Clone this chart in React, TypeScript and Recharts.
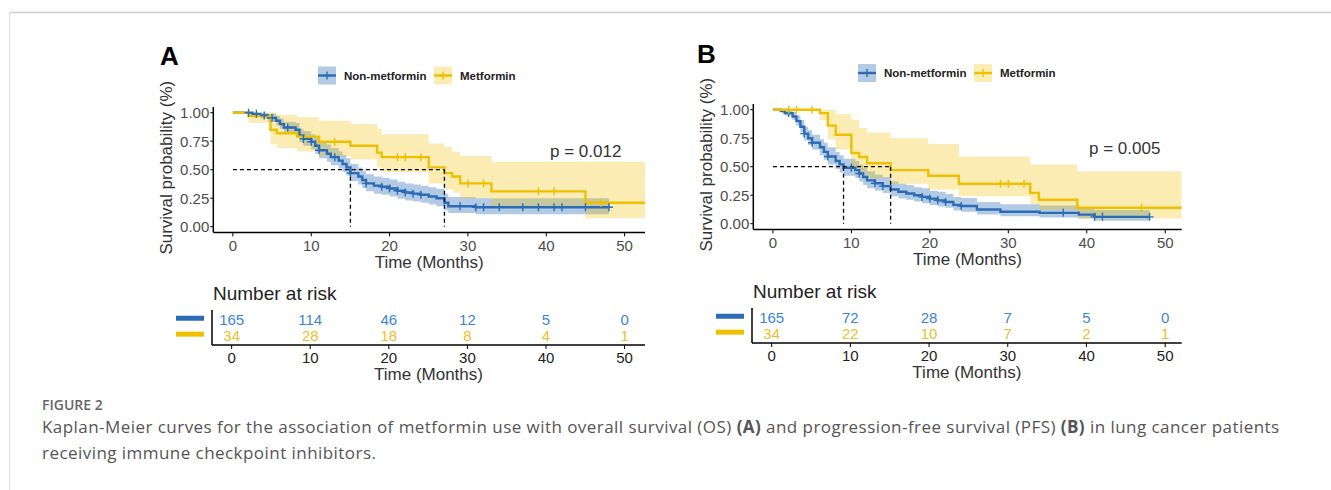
import React from "react";
import {
  ComposedChart,
  Area,
  Line,
  Scatter,
  XAxis,
  YAxis,
  ReferenceLine,
} from "recharts";

const BLUE = "#2B6CB5";
const YELLOW = "#EFC000";
const BLUE_TEXT = "#3A86D6";
const YELLOW_TEXT = "#F0BE2A";

const groups = ["Non-metformin", "Metformin"];
const timeTicks = [0, 10, 20, 30, 40, 50];
const survTicks = [0, 0.25, 0.5, 0.75, 1];

// (A) overall survival, non-metformin
const osNonTime = [0, 2.5, 3.5, 4.5, 5.5, 6, 6.5, 8, 8.5, 9, 10, 10.5, 11, 12, 12.5, 13.5, 14, 14.5, 15, 16, 16.5, 17, 18, 19, 20, 21, 22, 23, 24, 25, 26, 27, 27.5, 31, 48];
const osNonSurv = [1, 0.99, 0.975, 0.955, 0.93, 0.9, 0.87, 0.85, 0.8, 0.77, 0.745, 0.71, 0.67, 0.64, 0.61, 0.58, 0.55, 0.52, 0.47, 0.44, 0.41, 0.38, 0.36, 0.35, 0.335, 0.315, 0.3, 0.29, 0.28, 0.265, 0.25, 0.21, 0.18, 0.17, 0.17];
const osNonLow = [1, 0.97, 0.95, 0.92, 0.89, 0.86, 0.82, 0.8, 0.74, 0.71, 0.68, 0.64, 0.6, 0.57, 0.54, 0.51, 0.48, 0.45, 0.4, 0.37, 0.34, 0.31, 0.29, 0.28, 0.265, 0.245, 0.23, 0.22, 0.21, 0.195, 0.18, 0.145, 0.12, 0.11, 0.11];
const osNonHigh = [1, 1, 1, 0.99, 0.97, 0.95, 0.92, 0.91, 0.86, 0.84, 0.81, 0.78, 0.74, 0.72, 0.69, 0.66, 0.63, 0.6, 0.55, 0.52, 0.49, 0.46, 0.44, 0.43, 0.415, 0.395, 0.38, 0.37, 0.36, 0.345, 0.33, 0.29, 0.26, 0.25, 0.25];
const osNonCensor = [2, 3, 4, 5, 7, 9, 10, 11, 13, 15, 17, 19, 20, 21, 22, 23, 24, 29, 31, 32, 34, 37, 39, 41, 42, 45, 48];

// (A) overall survival, metformin
const osMetTime = [0, 2, 4.8, 5.6, 8.2, 11, 15, 18.4, 19, 25, 27, 28, 29, 33, 45, 52.6];
const osMetSurv = [1, 0.97, 0.85, 0.82, 0.79, 0.745, 0.71, 0.65, 0.61, 0.52, 0.47, 0.44, 0.38, 0.31, 0.21, 0.21];
const osMetLow = [1, 0.91, 0.72, 0.69, 0.66, 0.62, 0.59, 0.52, 0.48, 0.38, 0.33, 0.3, 0.25, 0.18, 0.075, 0.075];
const osMetHigh = [1, 1, 1, 0.98, 0.96, 0.93, 0.9, 0.86, 0.81, 0.73, 0.7, 0.66, 0.62, 0.57, 0.57, 0.57];
const osMetCensor = [13, 21, 22, 24, 30, 32, 39, 41, 47];

// (B) progression-free survival, non-metformin
const pfsNonTime = [0, 1, 1.5, 2.5, 3, 3.5, 4, 4.5, 5, 6, 6.5, 7, 8, 8.5, 9, 10.5, 11, 11.5, 12, 13, 14, 15, 16, 17, 18, 19, 20, 21, 22, 23, 24, 26, 29, 34, 39, 41, 48];
const pfsNonSurv = [1, 0.99, 0.97, 0.94, 0.9, 0.85, 0.79, 0.75, 0.71, 0.67, 0.63, 0.59, 0.55, 0.52, 0.49, 0.47, 0.44, 0.41, 0.38, 0.355, 0.33, 0.3, 0.28, 0.265, 0.25, 0.235, 0.22, 0.205, 0.19, 0.165, 0.155, 0.125, 0.105, 0.095, 0.08, 0.06, 0.06];
const pfsNonLow = [1, 0.97, 0.95, 0.91, 0.86, 0.8, 0.73, 0.69, 0.65, 0.6, 0.56, 0.52, 0.48, 0.45, 0.42, 0.4, 0.37, 0.34, 0.31, 0.29, 0.27, 0.24, 0.22, 0.21, 0.195, 0.18, 0.165, 0.15, 0.14, 0.115, 0.105, 0.08, 0.065, 0.055, 0.045, 0.025, 0.025];
const pfsNonHigh = [1, 1, 1, 0.98, 0.95, 0.91, 0.85, 0.82, 0.78, 0.74, 0.71, 0.67, 0.63, 0.6, 0.57, 0.55, 0.52, 0.49, 0.46, 0.43, 0.41, 0.37, 0.35, 0.34, 0.32, 0.31, 0.29, 0.28, 0.26, 0.235, 0.225, 0.19, 0.17, 0.16, 0.14, 0.12, 0.12];
const pfsNonCensor = [2, 4, 5, 7, 10, 11, 13, 14, 19, 20, 21, 22, 24, 37, 41, 42, 48];

// (B) progression-free survival, metformin
const pfsMetTime = [0, 6, 7, 8, 10, 11, 12, 15, 19.8, 23.7, 32.8, 33.9, 38.8, 52.1];
const pfsMetSurv = [1, 0.97, 0.86, 0.78, 0.62, 0.585, 0.53, 0.47, 0.42, 0.35, 0.27, 0.21, 0.14, 0.14];
const pfsMetLow = [1, 0.91, 0.74, 0.65, 0.47, 0.44, 0.4, 0.35, 0.3, 0.24, 0.17, 0.12, 0.045, 0.045];
const pfsMetHigh = [1, 1, 1, 0.96, 0.91, 0.84, 0.8, 0.75, 0.7, 0.59, 0.52, 0.52, 0.46, 0.46];
const pfsMetCensor = [2, 3, 5, 29, 30, 32, 47];

// median survival times (dashed guides)
const osMedians = [15, 27];
const pfsMedians = [9, 15];

// number at risk
const riskTime = [0, 10, 20, 30, 40, 50];
const osRiskNon = [165, 114, 46, 12, 5, 0];
const osRiskMet = [34, 28, 18, 8, 4, 1];
const pfsRiskNon = [165, 72, 28, 7, 5, 0];
const pfsRiskMet = [34, 22, 10, 7, 2, 1];
const riskRows = [2, 1];

const FONT = "'Liberation Sans', Arial, sans-serif";
const CAPTION_FONT = "'Open Sans', sans-serif";

function stepRows(time: number[], surv: number[], low: number[], high: number[]) {
  return time.map((t, i) => ({ t, s: surv[i], band: [low[i], high[i]] }));
}

function censorRows(censor: number[], time: number[], surv: number[]) {
  return censor.map((t) => {
    let s = surv[0];
    time.forEach((tt, i) => {
      if (tt <= t) s = surv[i];
    });
    return { t, s };
  });
}

const plusShape = (color: string) => (props: any) => {
  const { cx, cy } = props;
  return (
    <path
      d={`M${cx - 4},${cy}H${cx + 4}M${cx},${cy - 4}V${cy + 4}`}
      stroke={color}
      strokeWidth={1.4}
      fill="none"
    />
  );
};

const countShape = (color: string) => (props: any) => {
  const { cx, cy, payload } = props;
  return (
    <text
      x={cx}
      y={cy}
      textAnchor="middle"
      dominantBaseline="central"
      fill={color}
      fontSize={15}
      fontFamily={FONT}
    >
      {payload.n}
    </text>
  );
};

interface KMProps {
  left: number;
  top: number;
  xMax: number;
  rightMargin: number;
  non: { t: number; s: number; band: number[] }[];
  met: { t: number; s: number; band: number[] }[];
  nonCensor: { t: number; s: number }[];
  metCensor: { t: number; s: number }[];
  medians: number[];
}

function KMChart({ left, top, xMax, rightMargin, non, met, nonCensor, metCensor, medians }: KMProps) {
  const lastMedian = Math.max(...medians);
  return (
    <div style={{ position: "absolute", left, top }}>
      <ComposedChart
        width={510}
        height={220}
        margin={{ top: 52, right: rightMargin, bottom: 0, left: 0 }}
      >
        <XAxis
          type="number"
          dataKey="t"
          domain={[-2.5, xMax]}
          ticks={timeTicks}
          interval={0}
          allowDataOverflow
          height={42.6}
          tickSize={4}
          tickMargin={4}
          tick={{ fill: "#4d4d4d", fontSize: 15, fontFamily: FONT }}
          axisLine={{ stroke: "#000", strokeWidth: 1.5 }}
          tickLine={{ stroke: "#000" }}
          label={{
            value: "Time (Months)",
            position: "insideBottom",
            offset: 7.5,
            fill: "#333",
            fontSize: 17,
            fontFamily: FONT,
          }}
        />
        <YAxis
          type="number"
          domain={[-0.05, 1.05]}
          ticks={survTicks}
          interval={0}
          allowDataOverflow
          width={63.3}
          tickSize={3}
          tickMargin={1}
          tickFormatter={(v: number) => v.toFixed(2)}
          tick={{ fill: "#4d4d4d", fontSize: 15, fontFamily: FONT }}
          axisLine={{ stroke: "#000", strokeWidth: 1.5 }}
          tickLine={{ stroke: "#000" }}
          label={(props: any) => {
            const vb = props.viewBox || { x: 0, y: 0, height: 0 };
            const cx = vb.x + 17;
            const cy = vb.y + vb.height / 2 - 2;
            return (
              <text
                x={cx}
                y={cy}
                transform={`rotate(-90 ${cx} ${cy})`}
                textAnchor="middle"
                dominantBaseline="central"
                fill="#333"
                fontSize={17}
                fontFamily={FONT}
              >
                Survival probability (%)
              </text>
            );
          }}
        />
        <Area data={non} dataKey="band" type="stepAfter" stroke="none" fill={BLUE} fillOpacity={0.36} isAnimationActive={false} />
        <Area data={met} dataKey="band" type="stepAfter" stroke="none" fill={YELLOW} fillOpacity={0.3} isAnimationActive={false} />
        <Line data={non} dataKey="s" type="stepAfter" stroke={BLUE} strokeWidth={2.4} dot={false} isAnimationActive={false} />
        <Line data={met} dataKey="s" type="stepAfter" stroke={YELLOW} strokeWidth={2.4} dot={false} isAnimationActive={false} />
        <Scatter data={nonCensor} dataKey="s" shape={plusShape(BLUE)} isAnimationActive={false} />
        <Scatter data={metCensor} dataKey="s" shape={plusShape(YELLOW)} isAnimationActive={false} />
        <ReferenceLine
          segment={[{ x: 0, y: 0.5 }, { x: lastMedian, y: 0.5 }]}
          stroke="#000"
          strokeWidth={1.3}
          strokeDasharray="4 3"
        />
        {medians.map((m) => (
          <ReferenceLine
            key={m}
            segment={[{ x: m, y: 0.5 }, { x: m, y: 0 }]}
            stroke="#000"
            strokeWidth={1.3}
            strokeDasharray="4 3"
          />
        ))}
      </ComposedChart>
    </div>
  );
}

interface RiskProps {
  left: number;
  top: number;
  xMax: number;
  rightMargin: number;
  nonCounts: number[];
  metCounts: number[];
}

function RiskTable({ left, top, xMax, rightMargin, nonCounts, metCounts }: RiskProps) {
  const nonRows = riskTime.map((t, i) => ({ t, row: riskRows[0], n: nonCounts[i] }));
  const metRows = riskTime.map((t, i) => ({ t, row: riskRows[1], n: metCounts[i] }));
  return (
    <div style={{ position: "absolute", left, top }}>
      <ComposedChart
        width={510}
        height={85}
        margin={{ top: 10, right: rightMargin, bottom: 0, left: 0 }}
      >
        <XAxis
          type="number"
          dataKey="t"
          domain={[-2.5, xMax]}
          ticks={timeTicks}
          interval={0}
          allowDataOverflow
          height={40}
          tickSize={4}
          tickMargin={3.6}
          tick={{ fill: "#222", fontSize: 15, fontFamily: FONT }}
          axisLine={{ stroke: "#000", strokeWidth: 1.5 }}
          tickLine={{ stroke: "#000" }}
          label={{
            value: "Time (Months)",
            position: "insideBottom",
            offset: 5.2,
            fill: "#333",
            fontSize: 17,
            fontFamily: FONT,
          }}
        />
        <YAxis
          type="number"
          dataKey="row"
          domain={[0.4, 2.6]}
          ticks={riskRows}
          interval={0}
          width={62}
          tickSize={0}
          tickMargin={0}
          tickLine={false}
          axisLine={{ stroke: "#000", strokeWidth: 1.5 }}
          tick={(p: any) => (
            <rect
              x={p.x - 36}
              y={p.y - 3.8}
              width={28}
              height={5}
              fill={p.payload.value === riskRows[0] ? BLUE : YELLOW}
            />
          )}
        />
        <Scatter data={nonRows} dataKey="row" shape={countShape(BLUE_TEXT)} isAnimationActive={false} />
        <Scatter data={metRows} dataKey="row" shape={countShape(YELLOW_TEXT)} isAnimationActive={false} />
      </ComposedChart>
    </div>
  );
}

function LegendKeys({ x, cy }: { x: number; cy: number }) {
  const colors = [BLUE, YELLOW];
  const opac = [0.36, 0.3];
  const offsets = [0, 116];
  return (
    <g>
      {groups.map((g, i) => {
        const kx = x + offsets[i];
        return (
          <g key={g}>
            <rect x={kx} y={cy - 9} width={18} height={18} fill={colors[i]} fillOpacity={opac[i]} />
            <line x1={kx} x2={kx + 18} y1={cy} y2={cy} stroke={colors[i]} strokeWidth={2.4} />
            <path d={`M${kx + 5},${cy}H${kx + 13}M${kx + 9},${cy - 4}V${cy + 4}`} stroke={colors[i]} strokeWidth={1.4} />
            <text
              x={kx + 26}
              y={cy}
              dominantBaseline="central"
              fontSize={11.5}
              fontWeight="bold"
              fill="#222"
              fontFamily={FONT}
            >
              {g}
            </text>
          </g>
        );
      })}
    </g>
  );
}

export default function App() {
  const osNon = stepRows(osNonTime, osNonSurv, osNonLow, osNonHigh);
  const osMet = stepRows(osMetTime, osMetSurv, osMetLow, osMetHigh);
  const pfsNon = stepRows(pfsNonTime, pfsNonSurv, pfsNonLow, pfsNonHigh);
  const pfsMet = stepRows(pfsMetTime, pfsMetSurv, pfsMetLow, pfsMetHigh);

  return (
    <div
      style={{
        position: "absolute",
        left: 0,
        top: 0,
        width: 1331,
        height: 490,
        background: "#fff",
        overflow: "hidden",
        fontFamily: FONT,
      }}
    >
      <svg width={1331} height={490} style={{ position: "absolute", left: 0, top: 0 }}>
        <line x1={10} x2={1331} y1={12.5} y2={12.5} stroke="#cfcfcf" strokeWidth={1.6} />
        <line x1={9.5} x2={9.5} y1={12} y2={490} stroke="#dcdcdc" strokeWidth={1} />

        <text x={160} y={65} fontSize={26} fontWeight="bold" fill="#000" fontFamily={FONT}>A</text>
        <text x={697} y={63} fontSize={26} fontWeight="bold" fill="#000" fontFamily={FONT}>B</text>

        <LegendKeys x={318} cy={75.5} />
        <LegendKeys x={858} cy={73} />

        <text x={550} y={156.5} fontSize={17} fill="#333" fontFamily={FONT}>p = 0.012</text>
        <text x={1089} y={154} fontSize={17} fill="#333" fontFamily={FONT}>p = 0.005</text>

        <text x={213} y={299.5} fontSize={19} fill="#222" fontFamily={FONT}>Number at risk</text>
        <text x={753} y={297.5} fontSize={19} fill="#222" fontFamily={FONT}>Number at risk</text>

        <text x={42} y={410} fontSize={14} fontWeight={600} fill="#666" fontFamily={CAPTION_FONT}>
          FIGURE 2
        </text>
        <text x={42} y={433} fontSize={17} letterSpacing={0.45} fill="#555" fontFamily={CAPTION_FONT}>
          Kaplan-Meier curves for the association of metformin use with overall survival (OS){" "}
          <tspan fontWeight={700}>(A)</tspan> and progression-free survival (PFS){" "}
          <tspan fontWeight={700}>(B)</tspan> in lung cancer patients
        </text>
        <text x={42} y={459} fontSize={17} letterSpacing={0.45} fill="#555" fontFamily={CAPTION_FONT}>
          receiving immune checkpoint inhibitors.
        </text>
      </svg>

      <KMChart
        left={150}
        top={55}
        xMax={52.6}
        rightMargin={15}
        non={osNon}
        met={osMet}
        nonCensor={censorRows(osNonCensor, osNonTime, osNonSurv)}
        metCensor={censorRows(osMetCensor, osMetTime, osMetSurv)}
        medians={osMedians}
      />
      <KMChart
        left={690}
        top={52.3}
        xMax={52.1}
        rightMargin={18.3}
        non={pfsNon}
        met={pfsMet}
        nonCensor={censorRows(pfsNonCensor, pfsNonTime, pfsNonSurv)}
        metCensor={censorRows(pfsMetCensor, pfsMetTime, pfsMetSurv)}
        medians={pfsMedians}
      />

      <RiskTable left={150} top={300} xMax={52.6} rightMargin={15} nonCounts={osRiskNon} metCounts={osRiskMet} />
      <RiskTable left={690} top={298} xMax={52.1} rightMargin={18.3} nonCounts={pfsRiskNon} metCounts={pfsRiskMet} />
    </div>
  );
}
